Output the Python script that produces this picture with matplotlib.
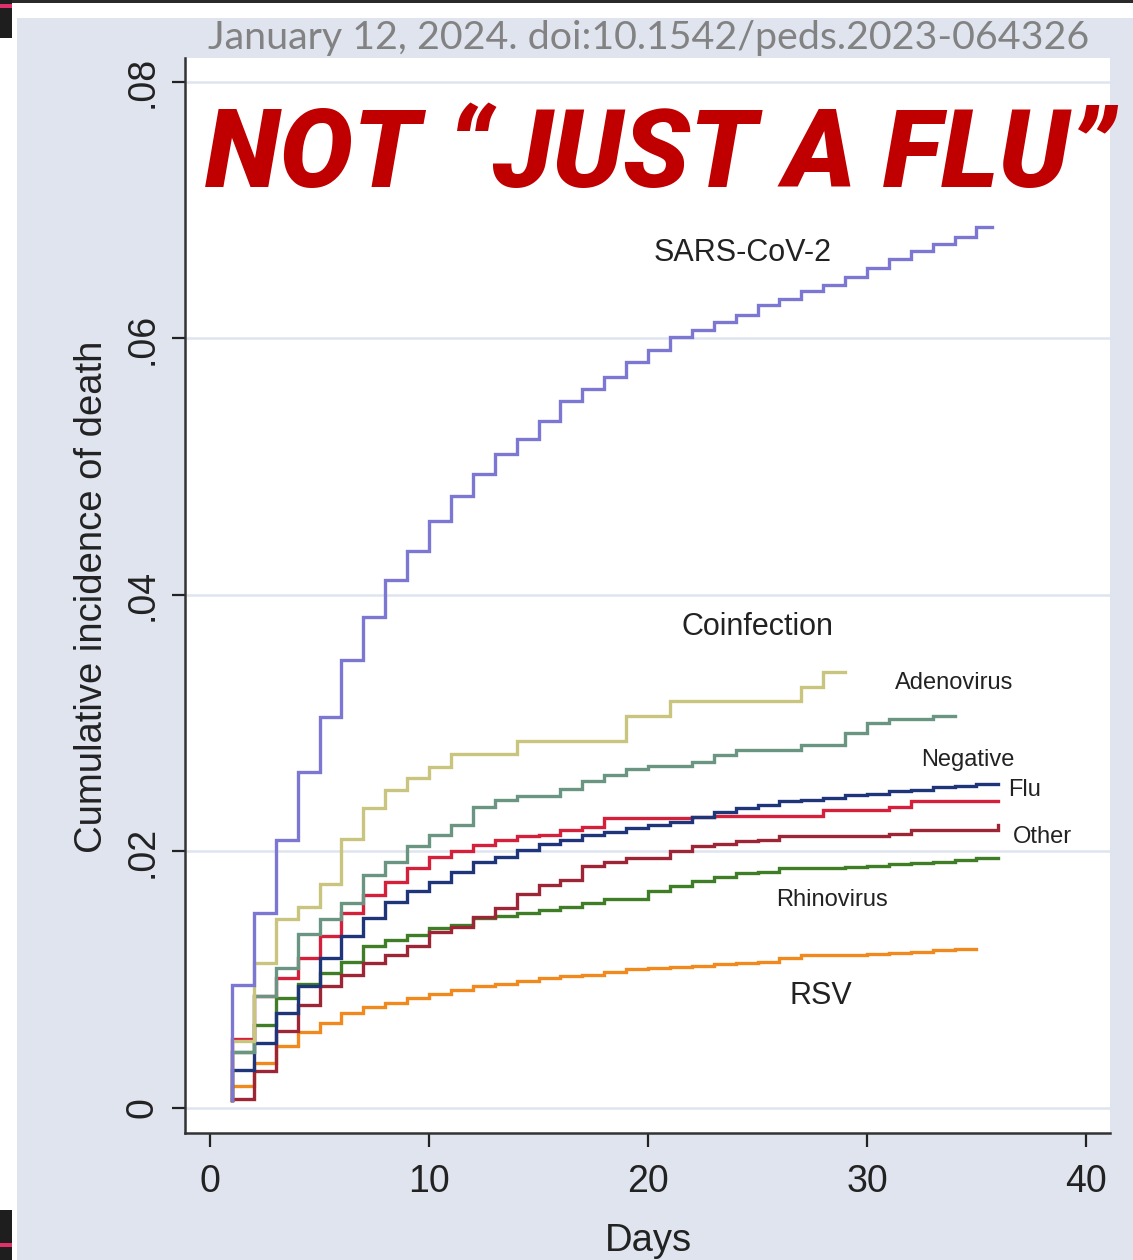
import numpy as np
import matplotlib.pyplot as plt
from matplotlib.patches import Rectangle

plt.rcParams['font.family'] = 'Liberation Sans'

W, H = 1133, 1260

# Cumulative incidence of death by day since admission (day 1 onward)
base = 0.0006
sars = [0.0096, 0.0152, 0.0209, 0.0262, 0.0305, 0.0349, 0.0383, 0.0412, 0.0434, 0.0458,
        0.0477, 0.0494, 0.0510, 0.0522, 0.0536, 0.0551, 0.0561, 0.0570, 0.0582, 0.0591,
        0.0601, 0.0607, 0.0613, 0.0618, 0.0626, 0.0631, 0.0637, 0.0642, 0.0648, 0.0655,
        0.0662, 0.0668, 0.0674, 0.0679, 0.0687]
coinfection = [0.0052, 0.0113, 0.0147, 0.0157, 0.0175, 0.0210, 0.0234, 0.0248, 0.0257, 0.0266,
               0.0276, 0.0276, 0.0276, 0.0286, 0.0286, 0.0286, 0.0286, 0.0286, 0.0306, 0.0306,
               0.0317, 0.0317, 0.0317, 0.0317, 0.0317, 0.0317, 0.0328, 0.0340]
adenovirus = [0.0044, 0.0087, 0.0109, 0.0136, 0.0147, 0.0160, 0.0182, 0.0192, 0.0204, 0.0213,
              0.0221, 0.0235, 0.0240, 0.0243, 0.0243, 0.0249, 0.0255, 0.0260, 0.0264, 0.0267,
              0.0267, 0.0270, 0.0275, 0.0279, 0.0279, 0.0279, 0.0283, 0.0283, 0.0292, 0.0300,
              0.0303, 0.0303, 0.0306]
negative = [0.0030, 0.0051, 0.0074, 0.0095, 0.0117, 0.0134, 0.0148, 0.0161, 0.0169, 0.0176,
            0.0184, 0.0192, 0.0196, 0.0201, 0.0206, 0.0209, 0.0213, 0.0215, 0.0218, 0.0221,
            0.0223, 0.0227, 0.0231, 0.0234, 0.0236, 0.0239, 0.0240, 0.0242, 0.0244, 0.0245,
            0.0247, 0.0248, 0.0250, 0.0251, 0.0253]
flu = [0.0054, 0.0087, 0.0101, 0.0117, 0.0134, 0.0152, 0.0166, 0.0176, 0.0187, 0.0196,
       0.0200, 0.0205, 0.0209, 0.0212, 0.0213, 0.0217, 0.0219, 0.0226, 0.0226, 0.0226,
       0.0226, 0.0227, 0.0228, 0.0228, 0.0228, 0.0228, 0.0228, 0.0232, 0.0232, 0.0232,
       0.0235, 0.0239, 0.0239, 0.0239, 0.0239]
other = [0.0007, 0.0029, 0.0060, 0.0080, 0.0095, 0.0104, 0.0113, 0.0119, 0.0126, 0.0137,
         0.0141, 0.0149, 0.0156, 0.0167, 0.0174, 0.0178, 0.0189, 0.0192, 0.0195, 0.0195,
         0.0200, 0.0204, 0.0206, 0.0208, 0.0209, 0.0212, 0.0212, 0.0212, 0.0212, 0.0212,
         0.0214, 0.0217, 0.0217, 0.0217, 0.0217, 0.0221]
rhinovirus = [0.0044, 0.0065, 0.0086, 0.0097, 0.0105, 0.0114, 0.0126, 0.0131, 0.0135, 0.0140,
              0.0143, 0.0148, 0.0150, 0.0152, 0.0154, 0.0157, 0.0160, 0.0163, 0.0163, 0.0169,
              0.0173, 0.0177, 0.0180, 0.0183, 0.0184, 0.0187, 0.0187, 0.0187, 0.0188, 0.0189,
              0.0190, 0.0191, 0.0192, 0.0193, 0.0195]
rsv = [0.0017, 0.0035, 0.0048, 0.0059, 0.0066, 0.0074, 0.0079, 0.0082, 0.0086, 0.0089,
       0.0092, 0.0095, 0.0097, 0.0099, 0.0101, 0.0103, 0.0104, 0.0106, 0.0108, 0.0109,
       0.0110, 0.0111, 0.0112, 0.0113, 0.0114, 0.0117, 0.0119, 0.0119, 0.0119, 0.0120,
       0.0121, 0.0122, 0.0123, 0.0124]

curves = [
    (rsv, 35, '#f08a1e'),
    (rhinovirus, 36, '#3f7d27'),
    (other, 36, '#9c2536'),
    (flu, 36, '#d5203c'),
    (negative, 36, '#1f3579'),
    (adenovirus, 34, '#6a9582'),
    (coinfection, 29, '#c9c47e'),
    (sars, 35.7, '#7d77d4'),
]

# curve labels: text, day, value, size
labels = [
    ('SARS-CoV-2', 24.3, 0.0667, 22),
    ('Coinfection', 25.0, 0.0375, 22),
    ('Adenovirus', 34.0, 0.0331, 17),
    ('Negative', 34.6, 0.0271, 17),
    ('Flu', 37.2, 0.0248, 17),
    ('Other', 38.0, 0.0211, 17),
    ('Rhinovirus', 28.4, 0.0162, 17),
    ('RSV', 27.9, 0.0087, 22),
]

panel = '#dfe4ee'

fig = plt.figure(figsize=(W / 100, H / 100), dpi=100)
fig.patch.set_facecolor('white')


def fig_rect(x, y, w, h, color):
    # rectangle given in figure pixels, measured from the top-left corner
    fig.patches.append(Rectangle((x / W, 1 - (y + h) / H), w / W, h / H,
                                 transform=fig.transFigure, facecolor=color,
                                 edgecolor='none', zorder=-10))


# backdrop panel and the dark edges around it
fig_rect(17, 18, W - 17, H - 18, panel)
fig_rect(0, 0, W, 3, '#2a2a2a')
fig_rect(0, 0, 12, 38, '#1e1e1e')
fig_rect(0, 4, 12, 4, '#e0306a')
fig_rect(0, H - 50, 12, 50, '#1e1e1e')
fig_rect(0, H - 17, 12, 4, '#e0306a')

ax = fig.add_axes([185 / W, 1 - 1133 / H, (1110 - 185) / W, (1133 - 58) / H])
ax.set_facecolor('white')
ax.set_xlim(-1.142, 41.096)
ax.set_ylim(-0.00195, 0.08187)

for vals, end, color in curves:
    n = len(vals)
    x = np.concatenate([[1], np.arange(1, n + 1), [end]])
    y = np.concatenate([[base], vals, [vals[-1]]])
    ax.plot(x, y, drawstyle='steps-post', color=color, linewidth=2.4, solid_joinstyle='miter')

for text, d, v, size in labels:
    ax.text(d, v, text, ha='center', va='center', fontsize=size, color='#222222')

ax.set_yticks([0, 0.02, 0.04, 0.06, 0.08])
ax.set_yticklabels(['0', '.02', '.04', '.06', '.08'], rotation=90, va='center')
ax.set_xticks([0, 10, 20, 30, 40])
ax.tick_params(axis='y', length=9.5, width=1.6, pad=8, labelsize=27, colors='#222222')
ax.tick_params(axis='x', length=10, width=1.6, pad=12, labelsize=27, colors='#222222')
ax.yaxis.grid(True, color=panel, linewidth=1.8)
ax.set_axisbelow(True)
for side in ('top', 'right'):
    ax.spines[side].set_visible(False)
for side in ('left', 'bottom'):
    ax.spines[side].set_linewidth(1.8)
    ax.spines[side].set_color('#333333')

fig.text(92 / W, 1 - 597 / H, 'Cumulative incidence of death', rotation=90,
         ha='center', va='center', fontsize=27.5, color='#222222')
fig.text(648 / W, 1 - 1241 / H, 'Days', ha='center', va='center', fontsize=27.5,
         color='#222222')

header = fig.text(208 / W, 1 - 49 / H, 'January 12, 2024. doi:10.1542/peds.2023-064326',
                  ha='left', va='baseline', fontsize=30, color='#828282', family='Lato')
title = fig.text(205 / W, 1 - 187 / H, 'NOT \u201cJUST A FLU\u201d', ha='left', va='baseline',
                 fontsize=80, color='#c00000', family='Roboto', weight='black', style='italic')

# size the two banner lines to their target widths
renderer = fig.canvas.get_renderer()
for t, target in ((header, 882), (title, 910)):
    w = t.get_window_extent(renderer).width
    t.set_fontsize(t.get_fontsize() * target / w)

fig.savefig('out.png', dpi=100)
